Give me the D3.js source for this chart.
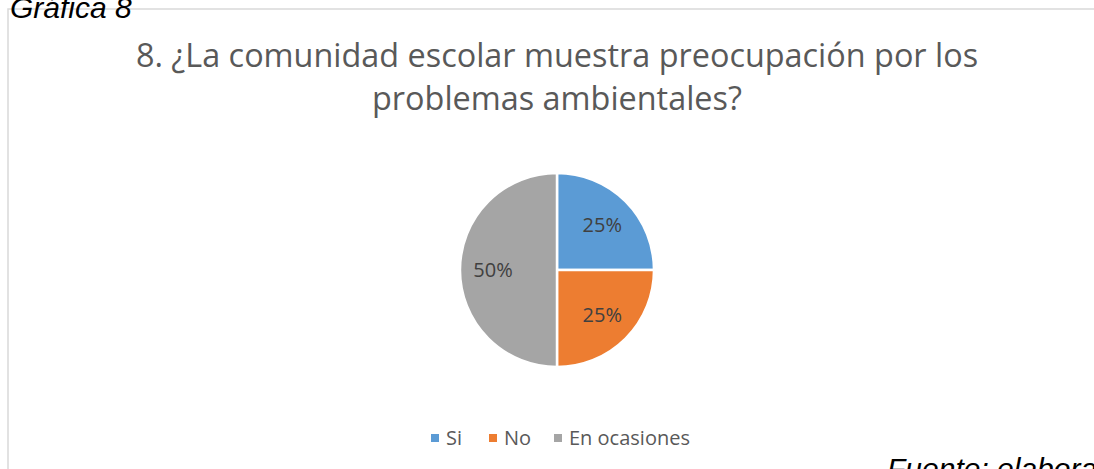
<!DOCTYPE html>
<html lang="es">
  <head>
    <meta charset="UTF-8" />
    <title>Gráfica 8</title>
    <script src="https://cdn.jsdelivr.net/npm/d3@7/dist/d3.min.js"></script>
    <style>
      body { margin: 0; background: #fff; }
    </style>
  </head>
  <body>
    <div id="chart"></div>
    <script>
      // data
      const categories = ["Si", "No", "En ocasiones"];
      const values = [25, 25, 50];
      const colors = ["#5B9BD5", "#ED7D31", "#A5A5A5"];
      const titleLines = [
        "8. ¿La comunidad escolar muestra preocupación por los",
        "problemas ambientales?",
      ];

      var width = 1094,
        height = 469;

      var svg = d3
        .select("#chart")
        .append("svg")
        .attr("width", width)
        .attr("height", height);

      // chart frame
      svg
        .append("rect")
        .attr("x", 8)
        .attr("y", 9)
        .attr("width", width + 10)
        .attr("height", height + 10)
        .attr("fill", "none")
        .attr("stroke", "#d9d9d9")
        .attr("stroke-width", 1.5);

      // caption above
      svg
        .append("text")
        .attr("x", 10)
        .attr("y", 18)
        .attr("font-family", "Liberation Sans, Arial, sans-serif")
        .attr("font-style", "italic")
        .attr("font-size", 30)
        .attr("fill", "#000")
        .text("Gráfica 8");

      // title
      svg
        .append("g")
        .selectAll("text")
        .data(titleLines)
        .enter()
        .append("text")
        .attr("x", 557)
        .attr("y", (d, i) => 67 + i * 43)
        .attr("text-anchor", "middle")
        .attr("font-family", "Open Sans, sans-serif")
        .attr("font-size", 32.4)
        .attr("fill", "#595959")
        .text((d) => d);

      // pie
      var cx = 557,
        cy = 270,
        r = 97;
      var pie = d3.pie().sort(null).value((d) => d);
      var arc = d3.arc().innerRadius(0).outerRadius(r);
      var labelArc = d3.arc().innerRadius(r * 0.66).outerRadius(r * 0.66);
      var g = svg.append("g").attr("transform", `translate(${cx},${cy})`);
      var arcs = pie(values);

      g.selectAll("path")
        .data(arcs)
        .enter()
        .append("path")
        .attr("d", arc)
        .attr("fill", (d, i) => colors[i])
        .attr("stroke", "#fff")
        .attr("stroke-width", 2.5);

      g.selectAll("text")
        .data(arcs)
        .enter()
        .append("text")
        .attr("transform", (d) => `translate(${labelArc.centroid(d)})`)
        .attr("dy", "0.35em")
        .attr("text-anchor", "middle")
        .attr("font-family", "Open Sans, sans-serif")
        .attr("font-size", 20)
        .attr("fill", "#404040")
        .text((d) => d.data + "%");

      // legend
      var legendX = [431, 489, 554];
      var legend = svg
        .append("g")
        .selectAll("g")
        .data(categories)
        .enter()
        .append("g")
        .attr("transform", (d, i) => `translate(${legendX[i]},438)`);
      legend
        .append("rect")
        .attr("x", 0)
        .attr("y", -4)
        .attr("width", 8)
        .attr("height", 8)
        .attr("fill", (d, i) => colors[i]);
      legend
        .append("text")
        .attr("x", 15)
        .attr("dy", "0.35em")
        .attr("font-family", "Open Sans, sans-serif")
        .attr("font-size", 20)
        .attr("fill", "#595959")
        .text((d) => d);

      // source note
      svg
        .append("text")
        .attr("x", 887)
        .attr("y", 479)
        .attr("font-family", "Liberation Sans, Arial, sans-serif")
        .attr("font-style", "italic")
        .attr("font-size", 30)
        .attr("fill", "#000")
        .text("Fuente: elaboración propia");
    </script>
  </body>
</html>
